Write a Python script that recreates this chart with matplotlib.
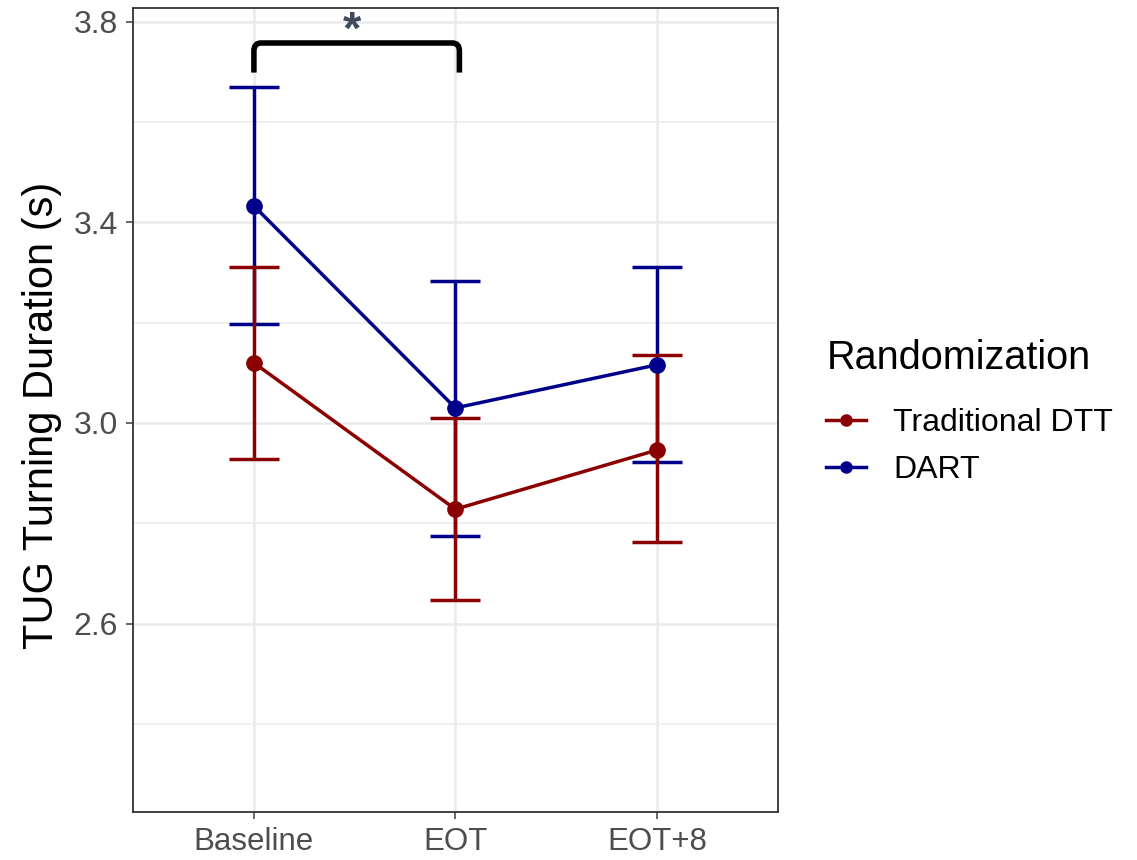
import numpy as np
import matplotlib
matplotlib.use('Agg')
import matplotlib.pyplot as plt
from matplotlib.lines import Line2D
from matplotlib.path import Path
from matplotlib.patches import PathPatch

plt.rcParams['font.family'] = ['Liberation Sans', 'DejaVu Sans']

# Data
timepoints = ['Baseline', 'EOT', 'EOT+8']
groups = ['Traditional DTT', 'DART']
colors = ['#8B0000', '#00008B']

dtt_mean = [3.12, 2.828, 2.946]
dtt_lo = [2.928, 2.647, 2.762]
dtt_hi = [3.311, 3.01, 3.136]

dart_mean = [3.433, 3.03, 3.116]
dart_lo = [3.198, 2.775, 2.922]
dart_hi = [3.671, 3.283, 3.311]

fig = plt.figure(figsize=(11.37, 8.6), dpi=100)
ax = fig.add_axes([0.117, 0.0558, 0.567, 0.935])

x = np.arange(len(timepoints))

# DART first so DTT sits on top
for mean, lo, hi, col in [(dart_mean, dart_lo, dart_hi, colors[1]),
                          (dtt_mean, dtt_lo, dtt_hi, colors[0])]:
    mean = np.array(mean)
    yerr = [mean - np.array(lo), np.array(hi) - mean]
    ax.errorbar(x, mean, yerr=yerr, color=col, lw=2.5, capsize=18,
                capthick=2.5, marker='o', ms=11, zorder=3)

ax.set_xlim(-0.6, 2.6)
ax.set_ylim(2.224, 3.828)
ax.set_xticks(x)
ax.set_xticklabels(timepoints)
ax.set_yticks([2.6, 3.0, 3.4, 3.8])
ax.set_yticklabels(['2.6', '3.0', '3.4', '3.8'])
ax.set_yticks([2.4, 2.8, 3.2, 3.6], minor=True)
ax.tick_params(axis='both', which='major', labelsize=23, colors='#4D4D4D',
               length=5, width=1.2, pad=6)
ax.tick_params(axis='x', which='major', labelsize=22.5, pad=6)
ax.tick_params(axis='y', which='minor', length=0)
ax.grid(True, which='major', color='#EBEBEB', lw=1.8, zorder=0)
ax.grid(True, which='minor', axis='y', color='#EBEBEB', lw=1.1, zorder=0)
ax.set_axisbelow(True)
for s in ax.spines.values():
    s.set_color('#333333')
    s.set_linewidth(1.3)

ax.set_ylabel('TUG Turning Duration (s)', fontsize=30, color='black')
ax.yaxis.set_label_coords(-0.11, 0.493)

# significance bracket with rounded corners
x0, x1, ytop, ybot = 0.0, 1.02, 3.758, 3.699
rx, ry = 0.035, 0.016
verts = [(x0, ybot), (x0, ytop - ry), (x0, ytop), (x0 + rx, ytop),
         (x1 - rx, ytop), (x1, ytop), (x1, ytop - ry), (x1, ybot)]
codes = [Path.MOVETO, Path.LINETO, Path.CURVE3, Path.CURVE3,
         Path.LINETO, Path.CURVE3, Path.CURVE3, Path.LINETO]
ax.add_patch(PathPatch(Path(verts, codes), fill=False, edgecolor='black',
                       lw=4, capstyle='butt', zorder=4, clip_on=False))
ax.text(0.485, 3.78, '*', fontsize=34, color='#3F4A5E', ha='center',
        va='center', fontweight='bold')

fig.text(827 / 1137, 1 - 358 / 860, 'Randomization', fontsize=28.5,
         ha='left', va='center')
handles = [Line2D([0], [0], color=c, lw=2.5, marker='o', ms=8) for c in colors]
leg = fig.legend(handles, groups, loc='upper left',
                 bbox_to_anchor=(0.721, 1 - 402 / 860), frameon=False,
                 fontsize=23, handlelength=1.25, handletextpad=0.85,
                 labelspacing=0.52, borderaxespad=0, borderpad=0.2)

fig.savefig('out.png', dpi=100)
